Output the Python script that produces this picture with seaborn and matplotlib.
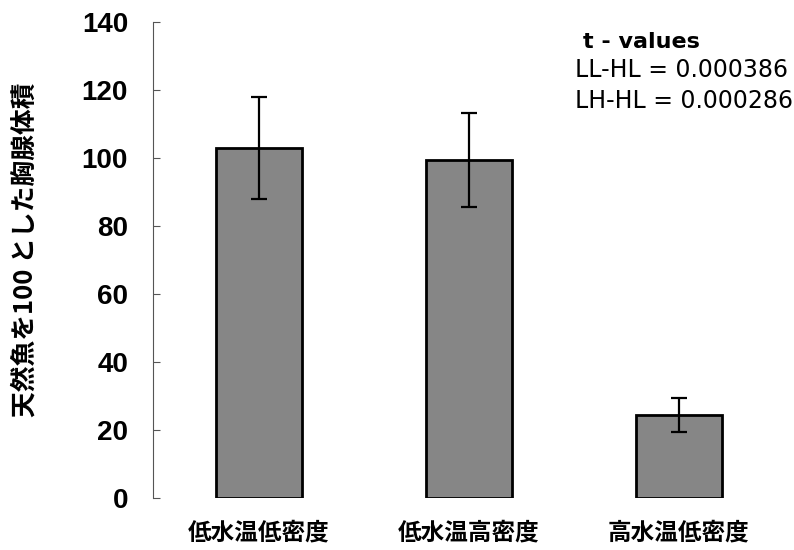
import pandas as pd
import matplotlib.pyplot as plt
import seaborn as sns

groups = ["低水温低密度", "低水温高密度", "高水温低密度"]
means = [103.0, 99.5, 24.5]
errors = [15.0, 13.8, 5.0]
yticks = [0, 20, 40, 60, 80, 100, 120, 140]
ylabel = "天然魚を100 とした胸腺体積"
tvalue_lines = ["t - values", "LL-HL = 0.000386", "LH-HL = 0.000286"]

sns.set_style("white")
plt.rcParams["font.family"] = ["Noto Sans CJK JP", "DejaVu Sans"]
plt.rcParams["text.color"] = "black"
plt.rcParams["xtick.color"] = "black"
plt.rcParams["ytick.color"] = "black"

df = pd.DataFrame({"group": groups, "value": means, "err": errors})

fig = plt.figure(figsize=(7.94, 5.5), dpi=100)
ax = fig.add_axes([0.1927, 0.0945, 0.8073, 0.8655])

sns.barplot(data=df, x="group", y="value", color="#868686", saturation=1,
            width=0.41, edgecolor="black", linewidth=2.0, ax=ax)
ax.errorbar(range(len(groups)), df["value"], yerr=df["err"], fmt="none",
            ecolor="black", elinewidth=1.6, capsize=5.8, capthick=1.6)

ax.set_ylim(0, 140)
ax.set_xlim(-0.505, 2.548)
ax.set_yticks(yticks)
ax.set_yticklabels([str(t) for t in yticks], fontsize=20, fontweight="bold",
                   family="Liberation Sans")
ax.tick_params(axis="y", left=True, direction="in", length=5, width=0.8,
               color="#555555", pad=18)
ax.tick_params(axis="x", bottom=False, length=0, pad=16)
for lbl in ax.get_xticklabels():
    lbl.set_fontsize(17)
    lbl.set_fontweight("bold")

ax.set_xlabel("")
ax.set_ylabel("")
fig.text(25 / 794, 1 - 250 / 550, ylabel, fontsize=18.5, fontweight="bold",
         rotation=90, ha="center", va="center")

for s in ["top", "right", "bottom"]:
    ax.spines[s].set_visible(False)
ax.spines["left"].set_color("#555555")
ax.spines["left"].set_linewidth(0.8)
ax.spines["left"].set_linestyle((0, (4, 1)))

fig.text(583 / 794, 1 - 48 / 550, tvalue_lines[0], fontsize=16,
         fontweight="bold", family="DejaVu Sans", ha="left", va="baseline")
fig.text(575 / 794, 1 - 77 / 550, tvalue_lines[1], fontsize=17,
         family="DejaVu Sans", ha="left", va="baseline")
fig.text(575 / 794, 1 - 108 / 550, tvalue_lines[2], fontsize=17,
         family="DejaVu Sans", ha="left", va="baseline")

fig.savefig("out.png", dpi=100)
plt.close(fig)
